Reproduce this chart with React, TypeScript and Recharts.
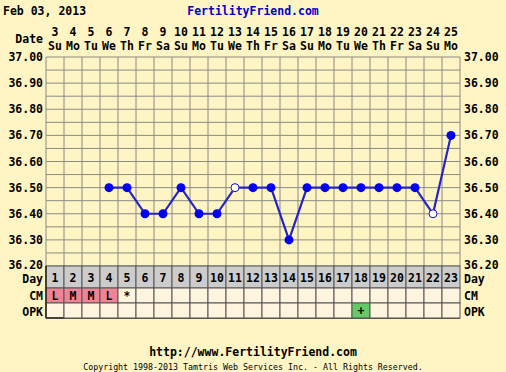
import React from 'react';
import { LineChart, Line, XAxis, YAxis, CartesianGrid } from 'recharts';

const cycleDays = [1, 2, 3, 4, 5, 6, 7, 8, 9, 10, 11, 12, 13, 14, 15, 16, 17, 18, 19, 20, 21, 22, 23];
const dateNums = [3, 4, 5, 6, 7, 8, 9, 10, 11, 12, 13, 14, 15, 16, 17, 18, 19, 20, 21, 22, 23, 24, 25];
const weekdays = ['Su', 'Mo', 'Tu', 'We', 'Th', 'Fr', 'Sa', 'Su', 'Mo', 'Tu', 'We', 'Th', 'Fr', 'Sa', 'Su', 'Mo', 'Tu', 'We', 'Th', 'Fr', 'Sa', 'Su', 'Mo'];
const temps: (number | null)[] = [null, null, null, 36.5, 36.5, 36.4, 36.4, 36.5, 36.4, 36.4, 36.5, 36.5, 36.5, 36.3, 36.5, 36.5, 36.5, 36.5, 36.5, 36.5, 36.5, 36.4, 36.7];
const openDays = [11, 22];
const cmLabels = ['L', 'M', 'M', 'L', '*', '', '', '', '', '', '', '', '', '', '', '', '', '', '', '', '', '', ''];
const opkLabels = ['', '', '', '', '', '', '', '', '', '', '', '', '', '', '', '', '', '+', '', '', '', '', ''];
const yLabels = ['36.20', '36.30', '36.40', '36.50', '36.60', '36.70', '36.80', '36.90', '37.00'];

const W = 506;
const H = 372;
const PL = 46;
const PR = 460;
const PT = 57;
const PB = 266;
const COL = (PR - PL) / cycleDays.length;

const BG = '#FFF5C4';
const FONT = '"DejaVu Sans Mono", monospace';

const data = cycleDays.map((d, i) => ({ day: d, temp: temps[i], open: openDays.includes(d) }));

const yVals = yLabels.map((l) => parseFloat(l));
const yTicks: number[] = [];
yVals.forEach((v, i) => {
  yTicks.push(v);
  if (i < yVals.length - 1) yTicks.push(Math.round((v + 0.05) * 100) / 100);
});
const xBounds = [0, ...cycleDays].map((d) => d + 0.5);

const txt = (x: number, y: number, s: string, anchor: string, extra: any = {}) => (
  <text
    x={x}
    y={y}
    textAnchor={anchor}
    dominantBaseline="central"
    fontFamily={FONT}
    fontWeight="bold"
    fontSize={11.5}
    fill="#000"
    {...extra}
  >
    {s}
  </text>
);

const TopTick = (p: any) => {
  const i = Math.round(p.payload.value) - 1;
  const x = p.x;
  return (
    <g>
      {txt(x, 32, String(dateNums[i]), 'middle')}
      {txt(x, 45.5, weekdays[i], 'middle')}
      {i === 0 && txt(PL - 3, 38.5, 'Date', 'end')}
    </g>
  );
};

const RowTick = (p: any) => {
  const i = Math.round(p.payload.value) - 1;
  const x = p.x;
  const x0 = x - COL / 2;
  const cm = cmLabels[i];
  const opk = opkLabels[i];
  const cmFill = cm === 'L' || cm === 'M' ? '#F08496' : '#FFF5DE';
  const opkFill = opk === '+' ? '#66C866' : '#FFF5DE';
  return (
    <g>
      <rect x={x0} y={PB} width={COL} height={22} fill="#CCCCCC" stroke="#555" strokeWidth={1} />
      <rect x={x0} y={PB + 22} width={COL} height={15} fill={cmFill} stroke="#555" strokeWidth={1} />
      <rect x={x0} y={PB + 37} width={COL} height={15} fill={opkFill} stroke="#555" strokeWidth={1} />
      {txt(x, PB + 11.5, String(cycleDays[i]), 'middle')}
      {cm && txt(x, PB + 30, cm, 'middle')}
      {opk && txt(x, PB + 45, opk, 'middle')}
      {i === 0 && (
        <g>
          {txt(PL - 3, PB + 12.5, 'Day', 'end')}
          {txt(PL - 3, PB + 30, 'CM', 'end')}
          {txt(PL - 3, PB + 45.5, 'OPK', 'end')}
          <line x1={PL} x2={PR} y1={PB + 52} y2={PB + 52} stroke="#222" strokeWidth={1.5} />
          <line x1={PL} x2={PL} y1={PB} y2={PB + 52} stroke="#222" strokeWidth={1.5} />
        </g>
      )}
      {i === cycleDays.length - 1 && (
        <g>
          {txt(PR + 4, PB + 12.5, 'Day', 'start')}
          {txt(PR + 4, PB + 30, 'CM', 'start')}
          {txt(PR + 4, PB + 45.5, 'OPK', 'start')}
        </g>
      )}
    </g>
  );
};

const LeftYTick = (p: any) => {
  const v = p.payload.value;
  const label = yLabels.find((l) => Math.abs(parseFloat(l) - v) < 0.001);
  if (!label) return <g />;
  return txt(PL - 3, p.y - (v < 36.25 ? 1.5 : 0), label, 'end');
};

const RightYTick = (p: any) => {
  const v = p.payload.value;
  const label = yLabels.find((l) => Math.abs(parseFloat(l) - v) < 0.001);
  if (!label) return <g />;
  return txt(PR + 4, p.y - (v < 36.25 ? 1.5 : 0), label, 'start');
};

const Dot = (p: any) => {
  const { cx, cy, payload } = p;
  if (payload.temp == null || cx == null || cy == null) return <g />;
  return payload.open ? (
    <circle cx={cx} cy={cy} r={4} fill="#FFFFFF" stroke="#1010C0" strokeWidth={1} />
  ) : (
    <circle cx={cx} cy={cy} r={4.5} fill="#0000EE" stroke="none" />
  );
};

export default function App() {
  return (
    <div style={{ position: 'absolute', left: 0, top: 0, width: W, height: H, background: BG }}>
      <LineChart width={W} height={H} data={data} margin={{ top: 0, right: 0, bottom: 0, left: 0 }}>
        <CartesianGrid
          xAxisId="rows"
          yAxisId="left"
          stroke="#8A8A84"
          strokeWidth={1}
          fill={BG}
          verticalValues={xBounds}
          horizontalValues={yTicks}
        />
        <XAxis
          xAxisId="top"
          orientation="top"
          dataKey="day"
          type="number"
          domain={[0.5, 23.5]}
          ticks={cycleDays}
          interval={0}
          allowDataOverflow
          height={PT}
          tick={<TopTick />}
          axisLine={false}
          tickLine={false}
        />
        <XAxis
          xAxisId="rows"
          dataKey="day"
          type="number"
          domain={[0.5, 23.5]}
          ticks={cycleDays}
          interval={0}
          allowDataOverflow
          height={H - PB}
          tick={<RowTick />}
          axisLine={false}
          tickLine={false}
        />
        <YAxis
          yAxisId="left"
          type="number"
          domain={[36.2, 37.0]}
          ticks={yTicks}
          interval={0}
          allowDataOverflow
          width={PL}
          tick={<LeftYTick />}
          axisLine={false}
          tickLine={false}
        />
        <YAxis
          yAxisId="right"
          orientation="right"
          type="number"
          domain={[36.2, 37.0]}
          ticks={yTicks}
          interval={0}
          allowDataOverflow
          width={W - PR}
          tick={<RightYTick />}
          axisLine={false}
          tickLine={false}
        />
        <Line
          xAxisId="rows"
          yAxisId="left"
          dataKey="temp"
          stroke="#2424C8"
          strokeWidth={2.2}
          dot={<Dot />}
          activeDot={false}
          connectNulls={false}
          isAnimationActive={false}
        />
      </LineChart>
      <svg
        width={W}
        height={H}
        style={{ position: 'absolute', left: 0, top: 0, pointerEvents: 'none' }}
      >
        {txt(3, 10.5, 'Feb 03, 2013', 'start')}
        {txt(253, 10.5, 'FertilityFriend.com', 'middle', { fill: '#0000CC' })}
        {txt(253, 352, 'http://www.FertilityFriend.com', 'middle')}
        <text
          x={253}
          y={367}
          textAnchor="middle"
          dominantBaseline="central"
          fontFamily={FONT}
          fontSize={8.3}
          fill="#000"
        >
          Copyright 1998-2013 Tamtris Web Services Inc. - All Rights Reserved.
        </text>
      </svg>
    </div>
  );
}
